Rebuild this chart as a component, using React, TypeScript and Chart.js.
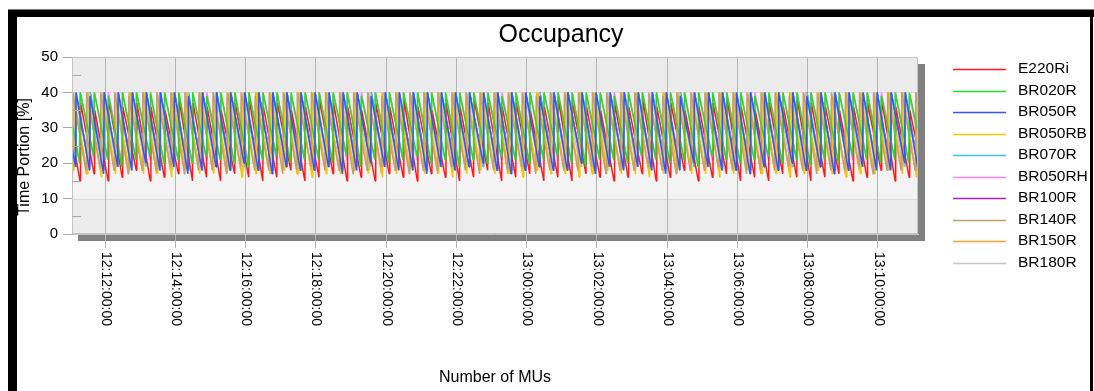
import { useEffect, useRef } from 'react';
import { Chart, registerables } from 'chart.js';

Chart.register(...registerables);

const chartTitle = 'Occupancy';
const yAxisTitle = 'Time Portion [%]';
const xAxisTitle = 'Number of MUs';

// x axis: minutes after 12:10 (as drawn), with the tick labels printed on the chart
const xTickValues = [2, 4, 6, 8, 10, 12, 14, 16, 18, 20, 22, 24];
const xTickLabels = [
  '12:12:00:00', '12:14:00:00', '12:16:00:00', '12:18:00:00', '12:20:00:00', '12:22:00:00',
  '13:00:00:00', '13:02:00:00', '13:04:00:00', '13:06:00:00', '13:08:00:00', '13:10:00:00',
];
const xStart = 1.06;
const xEnd = 25.14;
const cyclePeriod = 0.4; // minutes between refills (read from the sawtooth spacing)

const yTickValues = [0, 10, 20, 30, 40, 50];

const seriesNames = ['E220Ri', 'BR020R', 'BR050R', 'BR050RB', 'BR070R', 'BR050RH', 'BR100R', 'BR140R', 'BR150R', 'BR180R'];
const seriesColors = ['#ff1a1a', '#22dd22', '#3355ff', '#f2c800', '#3cc4e4', '#ff80f0', '#a020e0', '#c4a070', '#ffa030', '#c4c4c4'];
// refill offset inside a cycle (minutes)
const seriesPhases = [0.23, 0.22, 0.10, 0.04, 0.105, 0.222, 0.102, 0.0, 0.01, 0.07];

const e220riPeaks = [
  36, 37, 35, 38, 36, 37, 36, 35, 38, 37, 36, 35, 37, 38, 36, 37,
  35, 36, 38, 37, 36, 35, 37, 36, 38, 36, 35, 37, 36, 38, 37, 36,
  37, 35, 36, 38, 37, 36, 35, 37, 36, 38, 36, 37, 35, 36, 37, 38,
  36, 35, 37, 36, 38, 37, 36, 35, 36, 37, 38, 36, 35, 37, 36, 37,
];
const e220riLows = [
  16, 15, 17, 15, 16, 18, 15, 16, 17, 15, 16, 15, 17, 16, 15, 16,
  18, 15, 16, 17, 15, 16, 15, 17, 16, 15, 17, 16, 15, 16, 18, 15,
  16, 17, 15, 16, 15, 17, 16, 15, 16, 17, 15, 16, 18, 15, 16, 17,
  15, 16, 15, 17, 16, 15, 16, 17, 15, 16, 18, 15, 16, 17, 15, 16,
];
const br020rPeaks = [
  40, 40, 40, 39, 40, 40, 40, 40, 40, 40, 39, 40, 40, 40, 40, 40,
  40, 40, 40, 40, 40, 39, 40, 40, 40, 40, 40, 40, 40, 40, 40, 39,
  40, 40, 40, 40, 40, 40, 40, 39, 40, 40, 40, 40, 40, 40, 40, 40,
  40, 39, 40, 40, 40, 40, 40, 40, 40, 40, 39, 40, 40, 40, 40, 40,
];
const br020rLows = [
  21, 20, 22, 21, 19, 21, 22, 20, 21, 20, 22, 21, 20, 19, 21, 22,
  20, 21, 21, 20, 22, 19, 21, 20, 21, 22, 20, 21, 19, 21, 20, 22,
  21, 20, 21, 22, 20, 19, 21, 21, 20, 22, 21, 20, 21, 19, 22, 21,
  20, 21, 22, 20, 21, 19, 21, 20, 22, 21, 20, 21, 20, 22, 21, 20,
];
const br050rPeaks = [
  40, 40, 39, 40, 40, 40, 40, 40, 40, 39, 40, 40, 40, 40, 40, 40,
  40, 40, 40, 40, 40, 40, 39, 40, 40, 40, 40, 40, 40, 40, 40, 40,
  40, 40, 39, 40, 40, 40, 40, 40, 40, 40, 40, 40, 39, 40, 40, 40,
  40, 40, 40, 40, 40, 39, 40, 40, 40, 40, 40, 40, 40, 40, 39, 40,
];
const br050rLows = [
  18, 19, 18, 17, 19, 18, 20, 18, 19, 17, 18, 19, 18, 20, 18, 17,
  19, 18, 18, 19, 17, 18, 20, 19, 18, 18, 17, 19, 18, 19, 20, 18,
  17, 18, 19, 18, 18, 20, 17, 19, 18, 19, 18, 17, 18, 20, 19, 18,
  18, 17, 19, 18, 20, 18, 19, 17, 18, 19, 18, 18, 20, 17, 19, 18,
];
const br050rbPeaks = [
  40, 39, 40, 40, 38, 40, 40, 39, 40, 40, 40, 38, 40, 39, 40, 40,
  39, 40, 40, 40, 39, 40, 38, 40, 40, 39, 40, 40, 40, 39, 40, 40,
  40, 38, 40, 39, 40, 40, 40, 39, 40, 40, 38, 40, 40, 39, 40, 40,
  40, 39, 40, 40, 40, 38, 40, 39, 40, 40, 39, 40, 40, 40, 38, 40,
];
const br050rbLows = [
  17, 18, 17, 16, 17, 18, 17, 17, 16, 18, 17, 17, 18, 16, 17, 17,
  18, 17, 16, 17, 17, 18, 17, 16, 17, 18, 17, 17, 16, 17, 18, 17,
  17, 16, 18, 17, 17, 16, 17, 18, 17, 17, 16, 17, 18, 17, 17, 16,
  17, 18, 17, 17, 16, 17, 18, 17, 16, 17, 17, 18, 17, 16, 17, 17,
];
const br070rPeaks = [
  40, 40, 40, 40, 39, 40, 40, 40, 40, 40, 40, 40, 40, 39, 40, 40,
  40, 40, 40, 40, 40, 40, 40, 40, 39, 40, 40, 40, 40, 40, 40, 40,
  40, 39, 40, 40, 40, 40, 40, 40, 40, 40, 40, 39, 40, 40, 40, 40,
  40, 40, 40, 40, 40, 40, 39, 40, 40, 40, 40, 40, 40, 40, 40, 39,
];
const br070rLows = [
  18, 19, 18, 18, 19, 18, 19, 18, 19, 18, 18, 19, 18, 19, 18, 18,
  19, 18, 18, 19, 18, 18, 19, 19, 18, 18, 18, 19, 18, 19, 19, 18,
  18, 18, 19, 18, 18, 19, 18, 19, 18, 19, 18, 18, 18, 19, 19, 18,
  18, 18, 19, 18, 19, 18, 19, 18, 18, 19, 18, 18, 19, 18, 19, 18,
];
const br050rhPeaks = [
  40, 40, 40, 40, 40, 40, 39, 40, 40, 40, 40, 40, 40, 40, 40, 40,
  39, 40, 40, 40, 40, 40, 40, 40, 40, 40, 40, 39, 40, 40, 40, 40,
  40, 40, 40, 40, 40, 39, 40, 40, 40, 40, 40, 40, 40, 40, 40, 40,
  40, 40, 39, 40, 40, 40, 40, 40, 40, 40, 40, 40, 39, 40, 40, 40,
];
const br050rhLows = [
  21, 20, 21, 21, 20, 21, 21, 20, 21, 20, 21, 21, 20, 20, 21, 21,
  20, 21, 21, 20, 21, 20, 21, 20, 21, 21, 20, 21, 20, 21, 20, 21,
  21, 20, 21, 21, 20, 20, 21, 21, 20, 21, 21, 20, 21, 20, 21, 21,
  20, 21, 21, 20, 21, 20, 21, 20, 21, 21, 20, 21, 20, 21, 21, 20,
];
const br100rPeaks = [
  40, 39, 40, 40, 40, 40, 40, 40, 40, 39, 40, 40, 40, 40, 40, 40,
  40, 40, 40, 39, 40, 40, 40, 40, 40, 40, 40, 40, 40, 40, 39, 40,
  40, 40, 40, 40, 40, 40, 39, 40, 40, 40, 40, 40, 40, 40, 40, 40,
  39, 40, 40, 40, 40, 40, 40, 40, 40, 39, 40, 40, 40, 40, 40, 40,
];
const br100rLows = [
  19, 19, 19, 18, 19, 19, 20, 19, 19, 18, 19, 19, 19, 20, 19, 18,
  19, 19, 19, 19, 18, 19, 20, 19, 19, 19, 18, 19, 19, 19, 20, 19,
  18, 19, 19, 19, 19, 20, 18, 19, 19, 19, 19, 18, 19, 20, 19, 19,
  19, 18, 19, 19, 20, 19, 19, 18, 19, 19, 19, 19, 20, 18, 19, 19,
];
const br140rPeaks = [
  40, 40, 40, 40, 40, 39, 40, 40, 40, 40, 40, 40, 40, 40, 39, 40,
  40, 40, 40, 40, 40, 40, 40, 39, 40, 40, 40, 40, 40, 40, 40, 40,
  40, 40, 39, 40, 40, 40, 40, 40, 40, 40, 40, 39, 40, 40, 40, 40,
  40, 40, 40, 40, 39, 40, 40, 40, 40, 40, 40, 40, 40, 40, 40, 39,
];
const br140rLows = [
  18, 17, 18, 19, 18, 17, 18, 18, 19, 17, 18, 18, 17, 19, 18, 18,
  17, 18, 19, 18, 18, 17, 18, 19, 18, 17, 18, 18, 19, 18, 17, 18,
  18, 19, 17, 18, 18, 18, 19, 17, 18, 18, 19, 18, 17, 18, 18, 19,
  18, 17, 18, 18, 19, 18, 17, 18, 18, 19, 17, 18, 18, 18, 19, 17,
];
const br150rPeaks = [
  40, 40, 40, 39, 40, 40, 40, 40, 40, 40, 40, 40, 39, 40, 40, 40,
  40, 40, 40, 40, 40, 39, 40, 40, 40, 40, 40, 40, 40, 40, 40, 40,
  39, 40, 40, 40, 40, 40, 40, 40, 40, 40, 39, 40, 40, 40, 40, 40,
  40, 40, 40, 40, 40, 40, 40, 39, 40, 40, 40, 40, 40, 40, 40, 40,
];
const br150rLows = [
  18, 18, 17, 18, 19, 18, 18, 17, 18, 18, 19, 18, 17, 18, 18, 18,
  19, 17, 18, 18, 18, 19, 18, 17, 18, 18, 18, 17, 19, 18, 18, 18,
  17, 18, 18, 19, 18, 18, 17, 18, 18, 18, 19, 18, 17, 18, 18, 18,
  18, 19, 17, 18, 18, 18, 18, 19, 17, 18, 18, 18, 19, 18, 17, 18,
];
const br180rPeaks = [
  40, 40, 40, 40, 40, 40, 40, 39, 40, 40, 40, 40, 40, 40, 40, 39,
  40, 40, 40, 40, 40, 40, 40, 40, 40, 39, 40, 40, 40, 40, 40, 40,
  40, 40, 40, 40, 39, 40, 40, 40, 40, 40, 40, 40, 40, 40, 39, 40,
  40, 40, 40, 39, 40, 40, 40, 40, 40, 40, 40, 39, 40, 40, 40, 40,
];
const br180rLows = [
  19, 19, 20, 18, 19, 19, 20, 19, 18, 19, 20, 19, 19, 18, 19, 20,
  19, 18, 19, 19, 20, 19, 18, 19, 19, 20, 19, 19, 18, 19, 20, 19,
  19, 18, 20, 19, 19, 19, 18, 19, 20, 19, 19, 18, 19, 20, 19, 19,
  18, 19, 19, 20, 19, 18, 19, 19, 20, 19, 19, 18, 19, 19, 20, 19,
];

const seriesPeaks = [e220riPeaks, br020rPeaks, br050rPeaks, br050rbPeaks, br070rPeaks, br050rhPeaks, br100rPeaks, br140rPeaks, br150rPeaks, br180rPeaks];
const seriesLows = [e220riLows, br020rLows, br050rLows, br050rbLows, br070rLows, br050rhLows, br100rLows, br140rLows, br150rLows, br180rLows];
// drawing order (lower = on top)
const seriesOrder = [4, 1, 0, 3, 7, 8, 9, 2, 6, 5];

const FONT = '"Liberation Sans", Arial, Helvetica, sans-serif';

export default function App() {
  const ref = useRef<HTMLCanvasElement>(null);

  useEffect(() => {
    const canvas = ref.current;
    if (!canvas) return;

    const datasets = seriesNames.map((name, i) => {
      const peaks = seriesPeaks[i];
      const lows = seriesLows[i];
      const pts: { x: number; y: number }[] = [];
      for (let k = 0; k < lows.length; k++) {
        const r = xStart + seriesPhases[i] + cyclePeriod * (k - 1);
        pts.push({ x: r, y: lows[k] });
        pts.push({ x: r + 0.015, y: peaks[k] });
      }
      return {
        label: name,
        data: pts,
        borderColor: seriesColors[i],
        backgroundColor: seriesColors[i],
        borderWidth: 1.5,
        borderJoinStyle: 'bevel',
        pointRadius: 0,
        tension: 0,
        fill: false,
        order: seriesOrder[i],
      };
    });

    const decor = {
      id: 'decor',
      beforeDraw(chart: any) {
        const ctx = chart.ctx;
        const ca = chart.chartArea;
        const ys = chart.scales.y;
        ctx.save();
        ctx.fillStyle = '#ffffff';
        ctx.fillRect(0, 0, chart.width, chart.height);
        // drop shadow
        ctx.fillStyle = '#808080';
        ctx.fillRect(ca.left + 6, ca.top + 7, ca.right - ca.left + 1, ca.bottom - ca.top);
        // plot background
        ctx.fillStyle = '#f3f3f3';
        ctx.fillRect(ca.left, ca.top, ca.right - ca.left, ca.bottom - ca.top);
        ctx.fillStyle = '#ebebeb';
        const y40 = ys.getPixelForValue(40);
        const y10 = ys.getPixelForValue(10);
        ctx.fillRect(ca.left, ca.top, ca.right - ca.left, y40 - ca.top);
        ctx.fillRect(ca.left, y10, ca.right - ca.left, ca.bottom - y10);
        ctx.strokeStyle = '#dcdcdc';
        ctx.lineWidth = 1;
        [10, 20, 30, 40].forEach((v) => {
          const y = Math.round(ys.getPixelForValue(v)) + 0.5;
          ctx.beginPath();
          ctx.moveTo(ca.left, y);
          ctx.lineTo(ca.right, y);
          ctx.stroke();
        });
        ctx.restore();
      },
      afterDraw(chart: any) {
        const ctx = chart.ctx;
        const ca = chart.chartArea;
        const xs = chart.scales.x;
        const ys = chart.scales.y;
        ctx.save();
        // plot border
        ctx.strokeStyle = '#c4c4c4';
        ctx.lineWidth = 1;
        ctx.strokeRect(ca.left + 0.5, ca.top + 0.5, ca.right - ca.left - 1, ca.bottom - ca.top - 1);
        // minor ticks
        ctx.strokeStyle = '#a8a8a8';
        [5, 15, 25, 35, 45].forEach((v) => {
          const y = Math.round(ys.getPixelForValue(v)) + 0.5;
          ctx.beginPath();
          ctx.moveTo(ca.left, y);
          ctx.lineTo(ca.left + 9, y);
          ctx.stroke();
        });
        // x tick labels (rotated clockwise)
        ctx.fillStyle = '#000000';
        ctx.font = `14px ${FONT}`;
        ctx.textAlign = 'left';
        ctx.textBaseline = 'middle';
        xTickValues.forEach((v, i) => {
          const px = xs.getPixelForValue(v);
          ctx.save();
          ctx.translate(px + 0.5, 252);
          ctx.rotate(Math.PI / 2);
          ctx.fillText(xTickLabels[i], 0, 0);
          ctx.restore();
        });
        // title
        ctx.textBaseline = 'alphabetic';
        ctx.textAlign = 'center';
        ctx.font = `25px ${FONT}`;
        ctx.fillText(chartTitle, 561, 41.5);
        // x axis title
        ctx.font = `16px ${FONT}`;
        ctx.fillText(xAxisTitle, (ca.left + ca.right) / 2, 382);
        // y axis title
        ctx.save();
        ctx.translate(28.5, 157);
        ctx.rotate(-Math.PI / 2);
        ctx.fillText(yAxisTitle, 0, 0);
        ctx.restore();
        // legend
        ctx.textAlign = 'left';
        ctx.font = `15.5px ${FONT}`;
        seriesNames.forEach((name, i) => {
          const y = 69 + 21.52 * i;
          ctx.strokeStyle = seriesColors[i];
          ctx.lineWidth = 1.6;
          ctx.beginPath();
          ctx.moveTo(953, Math.round(y) + 0.5);
          ctx.lineTo(1006, Math.round(y) + 0.5);
          ctx.stroke();
          ctx.fillStyle = '#000000';
          ctx.fillText(name, 1018, y + 4.3);
        });
        // outer frame
        ctx.fillStyle = '#7a7a7a';
        ctx.fillRect(8, 9, 1086, 1);
        ctx.fillStyle = '#000000';
        ctx.fillRect(8, 10, 1086, 7);
        ctx.fillRect(8, 10, 9, 381);
        ctx.fillRect(1090, 10, 3, 381);
        ctx.restore();
      },
    };

    const chart = new Chart(canvas, {
      type: 'line',
      data: { datasets: datasets as any },
      options: {
        animation: false,
        responsive: false,
        devicePixelRatio: 1,
        events: [],
        layout: { padding: { left: 0, right: 176, top: 57, bottom: 0 } },
        plugins: {
          legend: { display: false },
          title: { display: false },
          tooltip: { enabled: false },
        },
        scales: {
          x: {
            type: 'linear',
            min: xStart,
            max: xEnd,
            afterBuildTicks: (scale: any) => {
              scale.ticks = xTickValues.map((v) => ({ value: v }));
            },
            afterFit: (scale: any) => {
              scale.height = 157;
            },
            ticks: { display: false },
            grid: { color: '#b4b4b4', tickLength: 14, drawOnChartArea: true, drawTicks: true },
            border: { display: true, color: '#c4c4c4' },
          },
          y: {
            type: 'linear',
            min: 0,
            max: 50,
            afterBuildTicks: (scale: any) => {
              scale.ticks = yTickValues.map((v) => ({ value: v }));
            },
            afterFit: (scale: any) => {
              scale.width = 72;
            },
            ticks: { color: '#000000', font: { family: FONT, size: 15 }, padding: 5 },
            grid: { color: '#a8a8a8', tickLength: 9, drawOnChartArea: false, drawTicks: true },
            border: { display: true, color: '#b4b4b4' },
          },
        },
      },
      plugins: [decor],
    });

    return () => chart.destroy();
  }, []);

  return (
    <canvas
      ref={ref}
      width={1094}
      height={391}
      style={{ position: 'fixed', left: 0, top: 0, width: 1094, height: 391, display: 'block' }}
    />
  );
}
